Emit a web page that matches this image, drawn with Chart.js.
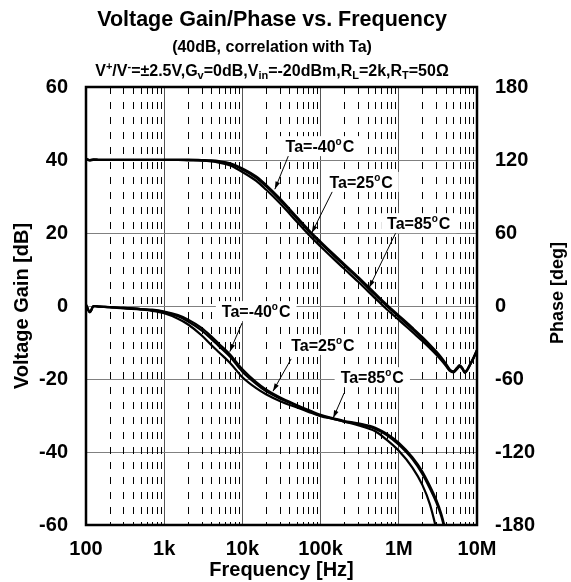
<!DOCTYPE html>
<html>
<head>
<meta charset="utf-8">
<script src="https://cdn.jsdelivr.net/npm/chart.js@4.4.1/dist/chart.umd.min.js"></script>
<style>
  body { margin: 0; background: #fff; }
</style>
</head>
<body>
<canvas id="chart" width="571" height="582"></canvas>
<script>
// frequency points (Hz)
const freqs = [100, 112, 125, 150, 200, 300, 500, 700,
  1e3, 1.5e3, 2e3, 3e3, 4e3, 5e3, 7e3,
  1e4, 1.5e4, 2e4, 3e4, 5e4, 7e4,
  1e5, 1.5e5, 2e5, 3e5, 5e5, 7e5,
  1e6, 1.5e6, 2e6, 2.5e6, 3e6, 3.5e6, 4e6, 4.5e6, 5e6, 5.5e6, 6e6, 6.5e6, 7e6, 7.5e6, 8e6, 9e6,
  1e7];

// voltage gain [dB]
const gainM40 = [40.4, 40.0, 40.2, 40.1, 40.1, 40.1, 40.1, 40.1,
  40.1, 40.1, 40.1, 40.0, 39.9, 39.7, 39.1,
  37.7, 35.5, 33.2, 29.5, 24.3, 20.9,
  17.6, 14.0, 11.5, 8.0, 3.4, 0.4,
  -2.6, -6.0, -8.5, -10.6, -12.4, -14.1, -15.8, -17.4, -17.9, -17.0, -16.2, -17.0, -18.1, -17.4, -16.3, -14.2,
  -12.0];
const gain25 = [40.3, 39.9, 40.1, 40.0, 40.0, 40.0, 40.0, 40.0,
  40.0, 40.0, 40.0, 39.9, 39.8, 39.5, 38.9,
  37.4, 35.1, 32.8, 29.1, 23.9, 20.5,
  17.2, 13.6, 11.1, 7.6, 3.0, 0.0,
  -3.0, -6.4, -8.9, -11.0, -12.8, -14.5, -16.1, -17.6, -18.0, -17.2, -16.4, -17.1, -18.2, -17.5, -16.4, -14.3,
  -12.1];
const gain85 = [40.2, 39.9, 40.0, 40.0, 40.0, 40.0, 40.0, 40.0,
  40.0, 40.0, 39.9, 39.8, 39.6, 39.3, 38.5,
  36.7, 34.3, 31.9, 28.2, 23.0, 19.6,
  16.3, 12.7, 10.2, 6.7, 2.1, -0.9,
  -3.8, -7.2, -9.6, -11.6, -13.3, -14.9, -16.4, -17.8, -18.2, -17.4, -16.6, -17.3, -18.3, -17.6, -16.5, -14.4,
  -12.2];

// phase [deg]
const phaseM40 = [1, -5, 0, -0.5, -1, -1.5, -2.5, -3,
  -4.5, -7.5, -11, -18, -25, -31, -40,
  -52, -62.5, -68.5, -75, -81.5, -85.5,
  -89.5, -92.5, -94.5, -96.5, -100, -105,
  -112.5, -124.5, -136, -148, -159, -171, -186, -203,
  null, null, null, null, null, null, null, null, null];
const phase25 = [1, -5, 0, -0.5, -1, -1.5, -2.5, -3.5,
  -5, -8.5, -12.5, -20, -27, -33, -42,
  -54, -64, -70, -76, -82, -86,
  -90, -93, -95, -97, -101, -106,
  -114, -126, -138, -150, -161, -173, -188, -205,
  null, null, null, null, null, null, null, null, null];
const phase85 = [1, -5, 0, -0.5, -1, -2, -3, -4,
  -6, -10.5, -15, -24, -32, -38, -47,
  -58.5, -67.5, -72.5, -78, -83.5, -87,
  -90.5, -93, -95, -98, -103, -110,
  -119, -133, -147, -163, -183, -205,
  null, null, null, null, null, null, null, null, null, null, null];

const xTickValues = [100, 1e3, 1e4, 1e5, 1e6, 1e7];
const xTickLabels = ['100', '1k', '10k', '100k', '1M', '10M'];
const gainTicks = [-60, -40, -20, 0, 20, 40, 60];
const phaseTicks = [-180, -120, -60, 0, 60, 120, 180];

// "Ta=..°C" call-outs: label centre, arrow start, arrow tip  [Hz, axis value]
const noteTemps = ['-40', '25', '85', '-40', '25', '85'];
const noteAxis = ['y', 'y', 'y', 'y1', 'y1', 'y1'];
const noteAt = [[98e3, 43.8], [330e3, 34], [1.8e6, 22.7], [15e3, -4.2], [107e3, -32], [458e3, -58.5]];
const noteFrom = [[42e3, 43], [151e3, 32.6], [912e3, 20], [9.9e3, -14], [42e3, -43.5], [200e3, -71.5]];
const noteTip = [[26e3, 32], [77e3, 20], [417e3, 5], [6.9e3, -37.5], [24.6e3, -70], [145e3, -92]];

const FONT = "'Liberation Sans', Arial, sans-serif";
const tickFont = { family: FONT, size: 20, weight: 'bold' };

function series(label, vals, axis) {
  return {
    label: label,
    data: freqs.map((f, i) => ({ x: f, y: vals[i] })),
    yAxisID: axis,
    borderColor: '#000',
    borderWidth: 2.2,
    pointRadius: 0,
    fill: false,
    cubicInterpolationMode: 'monotone'
  };
}

const minorGrid = {
  id: 'minorGrid',
  beforeDatasetsDraw(chart) {
    const { ctx, chartArea: a, scales: { x } } = chart;
    ctx.save();
    ctx.strokeStyle = '#000';
    ctx.lineWidth = 1;
    ctx.setLineDash([7, 8]);
    for (let d = 100; d < 1e7; d *= 10) {
      for (let m = 2; m <= 9; m++) {
        const px = Math.round(x.getPixelForValue(d * m)) + 0.5;
        ctx.beginPath();
        ctx.moveTo(px, a.top);
        ctx.lineTo(px, a.bottom);
        ctx.stroke();
      }
    }
    ctx.restore();
  }
};

function drawArrow(ctx, x1, y1, x2, y2) {
  ctx.beginPath();
  ctx.moveTo(x1, y1);
  ctx.lineTo(x2, y2);
  ctx.stroke();
  const ang = Math.atan2(y2 - y1, x2 - x1);
  const len = 8, half = 0.3;
  ctx.beginPath();
  ctx.moveTo(x2, y2);
  ctx.lineTo(x2 - len * Math.cos(ang - half), y2 - len * Math.sin(ang - half));
  ctx.lineTo(x2 - len * Math.cos(ang + half), y2 - len * Math.sin(ang + half));
  ctx.closePath();
  ctx.fill();
}

function drawTempLabel(ctx, temp, cx, cy) {
  const main = 'Ta=' + temp;
  ctx.font = 'bold 16px ' + FONT;
  const w1 = ctx.measureText(main).width;
  const w3 = ctx.measureText('C').width;
  ctx.font = 'bold 10px ' + FONT;
  const w2 = ctx.measureText('o').width + 1;
  const w = w1 + w2 + w3;
  ctx.fillStyle = '#fff';
  ctx.fillRect(cx - w / 2 - 6, cy - 10, w + 12, 20);
  ctx.fillStyle = '#000';
  ctx.textAlign = 'left';
  ctx.textBaseline = 'alphabetic';
  const x0 = cx - w / 2, base = cy + 6;
  ctx.font = 'bold 16px ' + FONT;
  ctx.fillText(main, x0, base);
  ctx.fillText('C', x0 + w1 + w2, base);
  ctx.font = 'bold 10px ' + FONT;
  ctx.fillText('o', x0 + w1, base - 7);
}

const callouts = {
  id: 'callouts',
  afterDatasetsDraw(chart) {
    const { ctx, chartArea: a, scales } = chart;
    const x = scales.x;
    ctx.save();
    ctx.strokeStyle = '#000';
    ctx.fillStyle = '#000';
    ctx.lineWidth = 1;
    noteTemps.forEach((t, i) => {
      const ys = scales[noteAxis[i]];
      drawArrow(ctx,
        x.getPixelForValue(noteFrom[i][0]), ys.getPixelForValue(noteFrom[i][1]),
        x.getPixelForValue(noteTip[i][0]), ys.getPixelForValue(noteTip[i][1]));
    });
    noteTemps.forEach((t, i) => {
      const ys = scales[noteAxis[i]];
      drawTempLabel(ctx, t, x.getPixelForValue(noteAt[i][0]), ys.getPixelForValue(noteAt[i][1]));
    });
    // plot frame
    ctx.strokeStyle = '#000';
    ctx.lineWidth = 2.5;
    ctx.strokeRect(a.left, a.top, a.right - a.left, a.bottom - a.top);
    ctx.restore();
  }
};

// title block, condition line and right axis title
const condParts = [['V', ''], ['+', 'sup'], ['/V', ''], ['-', 'sup'], ['=\u00b12.5V,G', ''], ['v', 'sub'],
  ['=0dB,V', ''], ['in', 'sub'], ['=-20dBm,R', ''], ['L', 'sub'], ['=2k,R', ''], ['T', 'sub'], ['=50\u03a9', '']];

const headings = {
  id: 'headings',
  afterDraw(chart) {
    const { ctx, chartArea: a } = chart;
    const cx = 272;
    ctx.save();
    ctx.fillStyle = '#000';
    ctx.textBaseline = 'alphabetic';
    ctx.textAlign = 'center';
    ctx.font = 'bold 21.5px ' + FONT;
    ctx.fillText('Voltage Gain/Phase vs. Frequency', cx, 26);
    ctx.font = 'bold 16px ' + FONT;
    ctx.fillText('(40dB, correlation with Ta)', cx, 52);

    const fontFor = m => (m ? 'bold 11px ' : 'bold 16px ') + FONT;
    let total = 0;
    condParts.forEach(p => { ctx.font = fontFor(p[1]); total += ctx.measureText(p[0]).width; });
    let px = cx - total / 2;
    ctx.textAlign = 'left';
    condParts.forEach(p => {
      ctx.font = fontFor(p[1]);
      const dy = p[1] === 'sup' ? -6 : (p[1] === 'sub' ? 3 : 0);
      ctx.fillText(p[0], px, 76 + dy);
      px += ctx.measureText(p[0]).width;
    });

    ctx.translate(558, 293);
    ctx.rotate(-Math.PI / 2);
    ctx.textAlign = 'center';
    ctx.textBaseline = 'middle';
    ctx.font = 'bold 18px ' + FONT;
    ctx.fillText('Phase [deg]', 0, 0);
    ctx.restore();
  }
};

new Chart(document.getElementById('chart'), {
  type: 'line',
  data: {
    datasets: [
      series('Gain Ta=-40', gainM40, 'y'),
      series('Gain Ta=25', gain25, 'y'),
      series('Gain Ta=85', gain85, 'y'),
      series('Phase Ta=-40', phaseM40, 'y1'),
      series('Phase Ta=25', phase25, 'y1'),
      series('Phase Ta=85', phase85, 'y1')
    ]
  },
  options: {
    responsive: false,
    animation: false,
    layout: { padding: { top: 87, left: 0, right: 0, bottom: 0 } },
    plugins: { legend: { display: false }, tooltip: { enabled: false } },
    scales: {
      x: {
        type: 'logarithmic',
        min: 100,
        max: 1e7,
        afterBuildTicks: s => { s.ticks = xTickValues.map(v => ({ value: v })); },
        afterFit: s => { s.height = 57; },
        ticks: { callback: (v, i) => xTickLabels[i], autoSkip: false, maxRotation: 0, padding: 12, color: '#000', font: tickFont },
        grid: { color: '#555', lineWidth: 1, drawTicks: false },
        border: { display: false },
        title: { display: true, text: 'Frequency [Hz]', color: '#000', font: tickFont, padding: { top: 0, bottom: 0 } }
      },
      y: {
        position: 'left',
        min: -60,
        max: 60,
        afterBuildTicks: s => { s.ticks = gainTicks.map(v => ({ value: v })); },
        afterFit: s => { s.width = 86; },
        ticks: { padding: 18, color: '#000', font: tickFont },
        grid: { color: '#808080', lineWidth: 1, drawTicks: false },
        border: { display: false },
        title: { display: true, text: 'Voltage Gain [dB]', color: '#000', font: tickFont, padding: { top: 10, bottom: 0 } }
      },
      y1: {
        position: 'right',
        min: -180,
        max: 180,
        afterBuildTicks: s => { s.ticks = phaseTicks.map(v => ({ value: v })); },
        afterFit: s => { s.width = 94; },
        ticks: { padding: 18, color: '#000', font: tickFont },
        grid: { drawOnChartArea: false, drawTicks: false },
        border: { display: false }
      }
    }
  },
  plugins: [minorGrid, callouts, headings]
});
</script>
</body>
</html>
